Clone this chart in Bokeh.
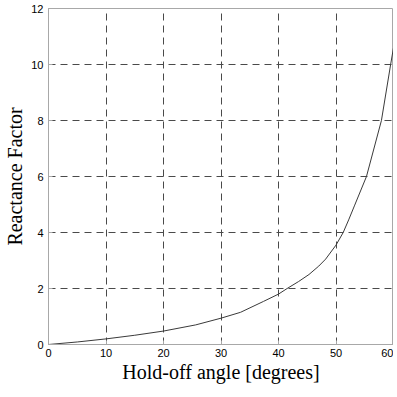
from bokeh.plotting import figure
from bokeh.embed import file_html
from bokeh.resources import INLINE
from bokeh.models import Range1d, FixedTicker

angle = [0, 5, 10, 15, 20, 25.6, 30, 33.4, 37.4, 40, 41.5, 43.5, 45.3, 47, 48.2, 50, 51.25, 52.2, 53.2, 55.3, 57.9, 59.5, 60]
factor = [0, 0.09, 0.2, 0.33, 0.48, 0.70, 0.94, 1.15, 1.54, 1.8, 2.0, 2.25, 2.5, 2.8, 3.05, 3.55, 4.0, 4.45, 4.95, 6.0, 8.0, 10.0, 10.6]

x_ticks = [0, 10, 20, 30, 40, 50, 60]
y_ticks = [0, 2, 4, 6, 8, 10, 12]
x_grid = [10, 20, 30, 40, 50]
y_grid = [2, 4, 6, 8, 10]

p = figure(frame_width=345, frame_height=336, output_backend="svg", toolbar_location=None,
           x_range=Range1d(0, 60), y_range=Range1d(0, 12),
           min_border_left=48, min_border_right=0, min_border_top=8, min_border_bottom=42)

p.line(angle, factor, line_color="#3a3a3a", line_width=1)

p.outline_line_color = "#a8a8a8"
p.outline_line_width = 1
p.background_fill_color = "white"
p.border_fill_color = "white"

for ax in (p.xaxis[0], p.yaxis[0]):
    ax.axis_line_color = "#a8a8a8"
    ax.major_tick_line_color = "#a8a8a8"
    ax.major_tick_in = 4
    ax.major_tick_out = 0
    ax.minor_tick_line_color = None
    ax.major_label_text_font = "Liberation Sans"
    ax.major_label_text_font_size = "11px"
    ax.major_label_text_color = "black"
    ax.axis_label_text_font = "Liberation Serif"
    ax.axis_label_text_font_size = "20px"
    ax.axis_label_text_font_style = "normal"
    ax.axis_label_text_color = "black"

p.xaxis.ticker = FixedTicker(ticks=x_ticks)
p.yaxis.ticker = FixedTicker(ticks=y_ticks)
p.xaxis.axis_label = "Hold-off angle [degrees]"
p.yaxis.axis_label = "Reactance Factor"
p.xaxis.major_label_standoff = 4
p.yaxis.major_label_standoff = 5
p.xaxis.axis_label_standoff = 1
p.yaxis.axis_label_standoff = 2

for g in (p.xgrid[0], p.ygrid[0]):
    g.grid_line_color = "#4a4a4a"
    g.grid_line_dash = "7 5"
    g.grid_line_width = 1

p.xgrid[0].ticker = FixedTicker(ticks=x_grid)
p.ygrid[0].ticker = FixedTicker(ticks=y_grid)

open("out.html", "w").write(file_html(p, INLINE))
